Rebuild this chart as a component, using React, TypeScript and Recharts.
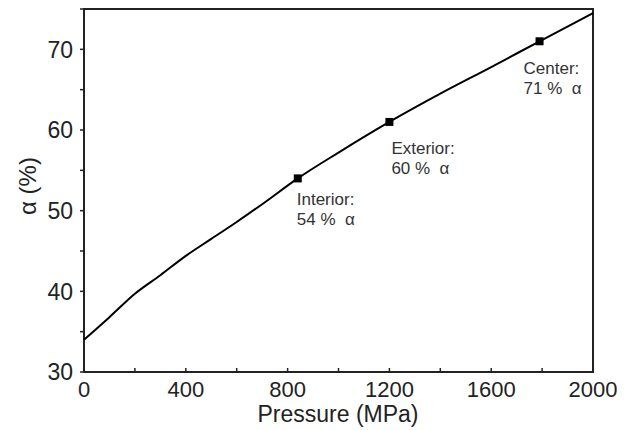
import {
  ComposedChart,
  Line,
  Scatter,
  XAxis,
  YAxis,
  ReferenceArea,
} from 'recharts'

// alpha fraction along the pressure curve
const pressure = [0, 100, 200, 300, 400, 500, 600, 700, 840, 1000, 1200, 1400, 1600, 1790, 2000]
const alpha = [34, 36.8, 39.7, 42, 44.4, 46.5, 48.6, 50.8, 54, 57.2, 61, 64.5, 67.8, 71, 74.5]

// measured regions
const regionNames = ['Interior:', 'Exterior:', 'Center:']
const regionPressure = [840, 1200, 1790]
const regionAlpha = [54, 61, 71]
const regionText = ['54 % \u00a0α', '60 % \u00a0α', '71 % \u00a0α']

const xTicks = [0, 200, 400, 600, 800, 1000, 1200, 1400, 1600, 1800, 2000]
const yTicks = [30, 35, 40, 45, 50, 55, 60, 65, 70, 75]

const curve = pressure.map((p, i) => ({ p, a: alpha[i] }))
const regions = regionNames.map((name, i) => ({
  name,
  text: regionText[i],
  p: regionPressure[i],
  a: regionAlpha[i],
}))

const FONT = '"Liberation Sans", Arial, sans-serif'
const labelOffsets = [
  { dx: -1, dy: 27 },
  { dx: 2, dy: 32 },
  { dx: -16, dy: 33 },
]

const XTick = ({ x, y, payload }: any) => {
  const v = payload.value
  const major = v % 400 === 0
  return (
    <g>
      <line x1={x} x2={x} y1={y} y2={y - 4} stroke="#222" strokeWidth={1.5} />
      {major && (
        <text x={x} y={y + 25} textAnchor="middle" fontSize={22} fill="#222" fontFamily={FONT}>
          {v}
        </text>
      )}
    </g>
  )
}

const YTick = ({ x, y, payload }: any) => {
  const v = payload.value
  const major = v % 10 === 0
  return (
    <g>
      <line x1={x} x2={x - 4} y1={y} y2={y} stroke="#222" strokeWidth={1.5} />
      {major && (
        <text x={x - 11} y={y} dy="0.36em" textAnchor="end" fontSize={23} fill="#222" fontFamily={FONT}>
          {v}
        </text>
      )}
    </g>
  )
}

const RegionMarker = (props: any) => {
  const { cx, cy, payload, index } = props
  const off = labelOffsets[index] || { dx: 0, dy: 30 }
  return (
    <g>
      <rect x={cx - 4} y={cy - 4} width={8} height={8} fill="#000" />
      <text x={cx + off.dx} y={cy + off.dy} fontSize={17} fill="#333" fontFamily={FONT}>
        {payload.name}
      </text>
      <text x={cx + off.dx} y={cy + off.dy + 20} fontSize={17} fill="#333" fontFamily={FONT}>
        {payload.text}
      </text>
    </g>
  )
}

export default function App() {
  return (
    <div style={{ position: 'absolute', left: 0, top: 0, width: 628, height: 430, background: '#fff' }}>
      <ComposedChart width={628} height={430} margin={{ top: 9, right: 35, bottom: 0, left: 0 }}>
        <XAxis
          dataKey="p"
          type="number"
          domain={[0, 2000]}
          ticks={xTicks}
          tick={<XTick />}
          tickLine={false}
          tickSize={0}
          tickMargin={0}
          axisLine={false}
          height={58}
          interval={0}
          label={{
            content: () => (
              <text x={338} y={422} textAnchor="middle" fontSize={23} fill="#222" fontFamily={FONT}>
                Pressure (MPa)
              </text>
            ),
          }}
        />
        <YAxis
          type="number"
          domain={[30, 75]}
          ticks={yTicks}
          tick={<YTick />}
          tickLine={false}
          tickSize={0}
          tickMargin={0}
          axisLine={false}
          width={84}
          interval={0}
          allowDataOverflow
          label={{
            content: () => (
              <text
                x={36}
                y={186}
                textAnchor="middle"
                fontSize={24}
                fill="#222"
                fontFamily={FONT}
                transform="rotate(-90 36 186)"
              >
                α (%)
              </text>
            ),
          }}
        />
        <ReferenceArea x1={0} x2={2000} y1={30} y2={75} fill="none" stroke="#222" strokeWidth={2} />
        <Line
          data={curve}
          dataKey="a"
          type="monotone"
          stroke="#000"
          strokeWidth={2}
          dot={false}
          activeDot={false}
          isAnimationActive={false}
        />
        <Scatter
          data={regions}
          dataKey="a"
          shape={<RegionMarker />}
          isAnimationActive={false}
        />
      </ComposedChart>
    </div>
  )
}
